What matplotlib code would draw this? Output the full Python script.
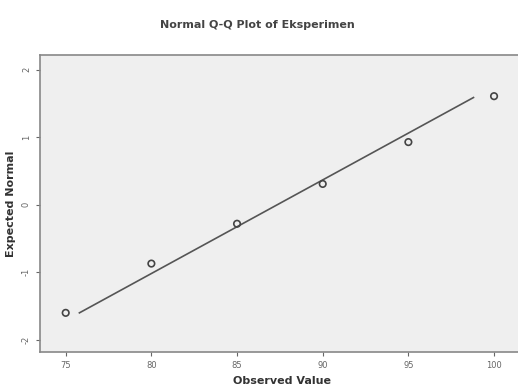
import matplotlib
matplotlib.use("Agg")
import matplotlib.pyplot as plt

# data
observed = [75, 80, 85, 90, 95, 100]
expected = [-1.60, -0.87, -0.28, 0.31, 0.93, 1.61]
line_x = [75.8, 98.8]
line_y = [-1.60, 1.59]

x_ticks = [75, 80, 85, 90, 95, 100]
y_ticks = [-2, -1, 0, 1, 2]

fig = plt.figure(figsize=(5.18, 3.91), dpi=100)
ax = fig.add_axes([40 / 518, 1 - 352 / 391, 1 - 40 / 518 + 0.01, (352 - 55) / 391])
ax.set_facecolor("#efefef")

ax.plot(line_x, line_y, color="#555555", linewidth=1.2)
ax.scatter(observed, expected, s=22, facecolors="none", edgecolors="#444444", linewidths=1.2, zorder=3)

ax.set_xlim(73.5, 101.7)
ax.set_ylim(-2.18, 2.22)
ax.set_xticks(x_ticks)
ax.set_yticks(y_ticks)
ax.set_yticklabels([str(v) for v in y_ticks], rotation=90, va="center")
ax.tick_params(labelsize=6, colors="#666666", length=3, width=0.8)

for s in ax.spines.values():
    s.set_color("#888888")
    s.set_linewidth(1.2)
ax.spines["right"].set_visible(False)

ax.set_xlabel("Observed Value", fontsize=8, fontweight="bold", color="#333333")
ax.set_ylabel("Expected Normal", fontsize=8, fontweight="bold", color="#333333")
fig.suptitle("Normal Q-Q Plot of Eksperimen", x=0.497, y=0.95, fontsize=8, fontweight="bold", color="#444444")

fig.savefig("out.png", dpi=100)
